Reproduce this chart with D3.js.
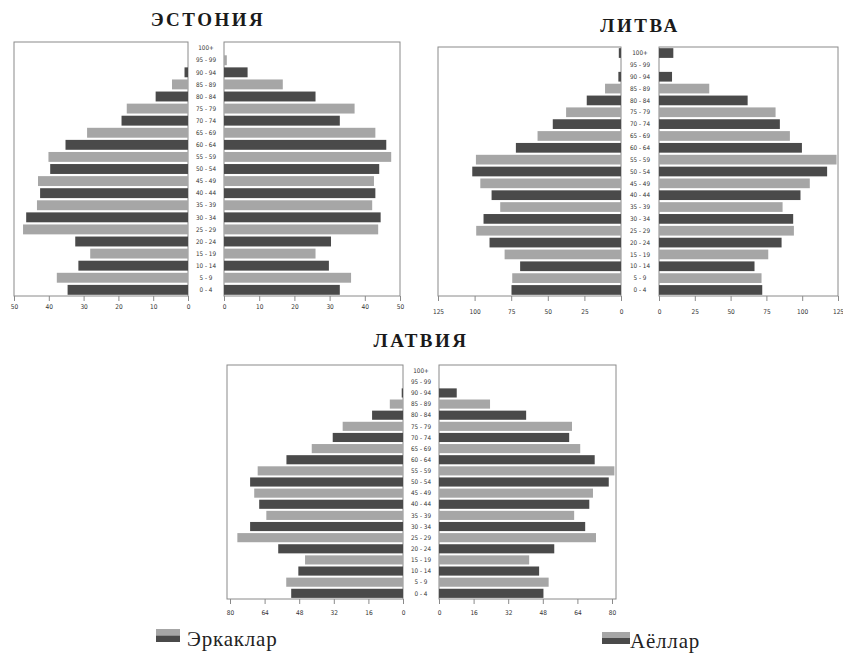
<!DOCTYPE html>
<html>
<head>
<meta charset="utf-8">
<script src="https://cdn.jsdelivr.net/npm/d3@7/dist/d3.min.js"></script>
<style>
  html, body { margin: 0; padding: 0; background: #ffffff; }
  svg { display: block; }
</style>
</head>
<body>
<svg id="chart" width="843" height="656"></svg>
<script>
// ---- DATA (age groups from youngest to oldest) ----
const ageGroups = ["0 - 4","5 - 9","10 - 14","15 - 19","20 - 24","25 - 29","30 - 34","35 - 39","40 - 44","45 - 49",
                   "50 - 54","55 - 59","60 - 64","65 - 69","70 - 74","75 - 79","80 - 84","85 - 89","90 - 94","95 - 99","100+"];

const estoniaMen   = [34.6, 37.7, 31.5, 28.1, 32.4, 47.4, 46.5, 43.4, 42.5, 43.1, 39.6, 40.1, 35.2, 29.0, 19.1, 17.6, 9.3, 4.6, 1.0, 0, 0];
const estoniaWomen = [32.9, 36.1, 29.8, 26.0, 30.4, 43.8, 44.5, 42.1, 43.0, 42.6, 44.1, 47.5, 46.1, 43.0, 32.9, 37.1, 26.0, 16.7, 6.7, 0.8, 0];

const lithuaniaMen   = [74.8, 74.3, 68.9, 79.5, 89.8, 98.9, 93.9, 82.5, 88.4, 96.1, 101.6, 99.1, 71.8, 57.0, 46.6, 37.5, 23.4, 10.9, 1.8, 0, 1.5];
const lithuaniaWomen = [72.1, 71.6, 66.7, 76.3, 85.6, 94.2, 93.7, 86.3, 98.8, 105.3, 117.4, 124.0, 99.8, 91.4, 84.4, 81.4, 61.9, 35.1, 9.1, 0, 10.0];

const latviaMen   = [51.7, 54.0, 48.4, 45.3, 57.7, 76.6, 70.7, 63.2, 66.5, 68.8, 70.7, 67.2, 53.9, 42.2, 32.5, 27.9, 14.3, 6.1, 0.6, 0, 0];
const latviaWomen = [48.3, 50.7, 46.3, 41.7, 53.3, 72.6, 67.6, 62.5, 69.5, 71.2, 78.5, 81.1, 72.0, 65.3, 60.2, 61.5, 40.3, 23.6, 8.2, 0, 0];

const estoniaTicks   = [0, 10, 20, 30, 40, 50];
const lithuaniaTicks = [0, 25, 50, 75, 100, 125];
const latviaTicks    = [0, 16, 32, 48, 64, 80];

const titles = ["ЭСТОНИЯ", "ЛИТВА", "ЛАТВИЯ"];
const legendLabels = ["Эркаклар", "Аёллар"];

// ---- STYLE ----
const lightGray = "#a6a6a6";
const darkGray  = "#4a4a4a";
const frameColor = "#8a8a8a";

const svg = d3.select("#chart");

function drawPyramid(cfg) {
  const g = svg.append("g");
  const y = d3.scaleBand()
    .domain(ageGroups.slice().reverse())
    .range([cfg.top, cfg.bottom])
    .paddingInner(0.18)
    .paddingOuter(0.1);

  const xL = d3.scaleLinear().domain([0, cfg.max]).range([cfg.lZero, cfg.lEnd]);
  const xR = d3.scaleLinear().domain([0, cfg.max]).range([cfg.rZero, cfg.rEnd]);

  // frames
  g.append("rect").attr("x", cfg.lFrame).attr("y", cfg.top).attr("width", cfg.lZero - cfg.lFrame)
    .attr("height", cfg.bottom - cfg.top).attr("fill", "none").attr("stroke", frameColor).attr("stroke-width", 1);
  g.append("rect").attr("x", cfg.rZero).attr("y", cfg.top).attr("width", cfg.rFrame - cfg.rZero)
    .attr("height", cfg.bottom - cfg.top).attr("fill", "none").attr("stroke", frameColor).attr("stroke-width", 1);

  // bars left (men)
  g.selectAll(".barL").data(cfg.men).join("rect")
    .attr("x", d => xL(d))
    .attr("y", (d, i) => y(ageGroups[i]))
    .attr("width", d => xL(0) - xL(d))
    .attr("height", y.bandwidth())
    .attr("fill", (d, i) => i % 2 === 0 ? darkGray : lightGray);

  // bars right (women)
  g.selectAll(".barR").data(cfg.women).join("rect")
    .attr("x", xR(0))
    .attr("y", (d, i) => y(ageGroups[i]))
    .attr("width", d => xR(d) - xR(0))
    .attr("height", y.bandwidth())
    .attr("fill", (d, i) => i % 2 === 0 ? darkGray : lightGray);

  // age labels
  const mid = (cfg.lZero + cfg.rZero) / 2;
  g.selectAll(".age").data(ageGroups).join("text")
    .attr("x", mid)
    .attr("y", d => y(d) + y.bandwidth() / 2)
    .attr("dy", "0.35em")
    .attr("text-anchor", "middle")
    .attr("font-family", "DejaVu Sans Condensed, DejaVu Sans, sans-serif")
    .attr("font-size", 6.3)
    .attr("fill", "#333")
    .text(d => d);

  // axes
  const axL = d3.axisBottom(xL).tickValues(cfg.ticks).tickSize(5).tickFormat(d3.format("d"));
  const axR = d3.axisBottom(xR).tickValues(cfg.ticks).tickSize(5).tickFormat(d3.format("d"));
  [axL, axR].forEach(ax => {
    const a = g.append("g").attr("transform", `translate(0,${cfg.bottom})`).call(ax);
    a.select(".domain").remove();
    a.selectAll("line").attr("stroke", frameColor);
    a.selectAll("text").attr("font-family", "DejaVu Sans Condensed, DejaVu Sans, sans-serif")
      .attr("font-size", 6.5).attr("fill", "#333").attr("dy", cfg.labelDy);
  });

  // title
  svg.append("text")
    .attr("x", cfg.titleX).attr("y", cfg.titleY)
    .attr("text-anchor", "middle")
    .attr("font-family", "Liberation Serif, DejaVu Serif, serif")
    .attr("font-weight", "bold")
    .attr("font-size", 19)
    .attr("letter-spacing", 2.5)
    .attr("fill", "#1a1a1a")
    .text(cfg.title);
}

drawPyramid({
  men: estoniaMen, women: estoniaWomen, max: 50, ticks: estoniaTicks,
  lZero: 188, lEnd: 14, lFrame: 14, rZero: 224, rEnd: 400, rFrame: 400,
  top: 42, bottom: 296, labelDy: "0.71em",
  title: titles[0], titleX: 208, titleY: 26
});
drawPyramid({
  men: lithuaniaMen, women: lithuaniaWomen, max: 125, ticks: lithuaniaTicks,
  lZero: 621, lEnd: 438, lFrame: 438, rZero: 659, rEnd: 838, rFrame: 838,
  top: 47, bottom: 296, labelDy: "1.5em",
  title: titles[1], titleX: 640, titleY: 32
});
drawPyramid({
  men: latviaMen, women: latviaWomen, max: 80, ticks: latviaTicks,
  lZero: 403, lEnd: 230, lFrame: 227, rZero: 439, rEnd: 612, rFrame: 616,
  top: 365, bottom: 599, labelDy: "1.3em",
  title: titles[2], titleX: 421, titleY: 347
});

// legend
const legendItems = [
  { label: legendLabels[0], sx: 156, sy: 629, sw: 24, sh: 13, tx: 187, ty: 646 },
  { label: legendLabels[1], sx: 602, sy: 632, sw: 28, sh: 12, tx: 630, ty: 648 }
];
const lg = svg.append("g");
legendItems.forEach(it => {
  lg.append("rect").attr("x", it.sx).attr("y", it.sy).attr("width", it.sw).attr("height", it.sh / 2).attr("fill", lightGray);
  lg.append("rect").attr("x", it.sx).attr("y", it.sy + it.sh / 2).attr("width", it.sw).attr("height", it.sh / 2).attr("fill", darkGray);
  lg.append("text").attr("x", it.tx).attr("y", it.ty)
    .attr("font-family", "Liberation Serif, DejaVu Serif, serif")
    .attr("font-size", 21)
    .attr("letter-spacing", 0.8)
    .attr("fill", "#222")
    .text(it.label);
});
</script>
</body>
</html>
